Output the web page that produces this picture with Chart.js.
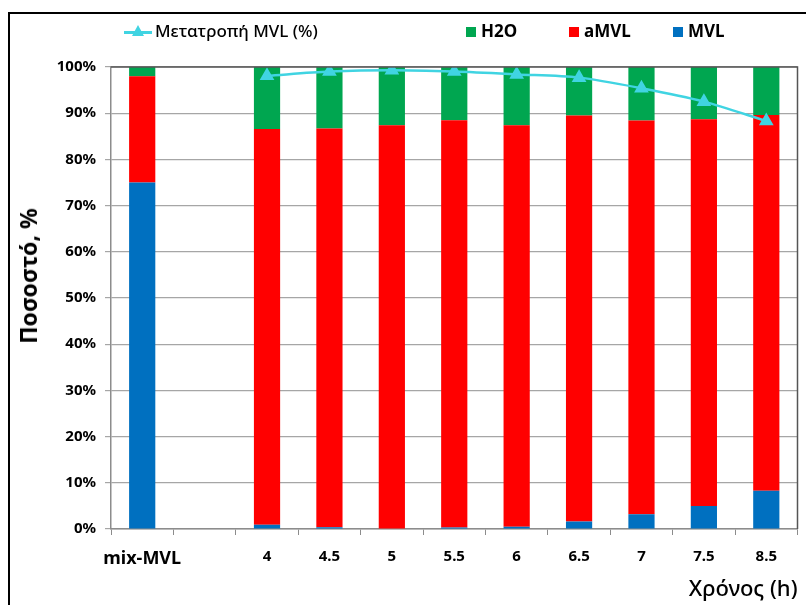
<!DOCTYPE html>
<html>
<head>
<meta charset="utf-8">
<script src="https://cdn.jsdelivr.net/npm/chart.js@4"></script>
<style>
    html, body { margin: 0; padding: 0; background: #ffffff; }
    #wrap { position: relative; width: 806px; height: 605px; overflow: hidden; }
    #frame { position: absolute; left: 8px; top: 12px; width: 820px; height: 620px;
             border-left: 2px solid #000; border-top: 2px solid #000; }
    #legend { position: absolute; top: 19px; left: 0; width: 806px; height: 24px;
              font-family: "Noto Sans", sans-serif; font-size: 17px; color: #000; }
    .item { position: absolute; top: 0; line-height: 24px; white-space: nowrap; }
    .box { display: inline-block; width: 10px; height: 10px; margin-right: 5px; vertical-align: 0px; }
    .lineKey { display: inline-block; position: relative; width: 28px; height: 10px; margin-right: 3px; }
    .lineKey i { position: absolute; left: 0; top: 4px; width: 28px; height: 3px; background: #40d4e2; }
    .lineKey b { position: absolute; left: 8px; top: -2px; width: 0; height: 0;
                 border-left: 6px solid transparent; border-right: 6px solid transparent;
                 border-bottom: 11px solid #40d4e2; }
    #tituloY { position: absolute; left: 28px; top: 276px; white-space: nowrap;
               font-family: "Noto Sans", sans-serif; font-size: 23px; font-weight: bold; color: #000;
               transform: translate(-50%, -50%) rotate(-90deg); }
    canvas { position: absolute; left: 0; top: 0; }
</style>
</head>
<body>
<div id="wrap">
    <div id="frame"></div>
    <canvas id="grafico" width="806" height="605"></canvas>
    <div id="tituloY">Ποσοστό, %</div>
    <div id="legend">
        <span class="item" style="left:124px;font-weight:500;"><span class="lineKey"><i></i><b></b></span>Μετατροπή MVL (%)</span>
        <span class="item" style="left:466px;font-weight:bold;"><span class="box" style="background:#00a650"></span>H2O</span>
        <span class="item" style="left:569px;font-weight:bold;"><span class="box" style="background:#ff0000"></span>aMVL</span>
        <span class="item" style="left:673px;font-weight:bold;"><span class="box" style="background:#0070c0"></span>MVL</span>
    </div>
</div>
<script>
const categorias = ["mix-MVL", "", "4", "4.5", "5", "5.5", "6", "6.5", "7", "7.5", "8.5"];
const mvl  = [75, null, 0.9, 0.4, 0, 0.3, 0.5, 1.6, 3.2, 5.0, 8.3];
const amvl = [23, null, 85.7, 86.3, 87.4, 88.2, 86.9, 87.9, 85.2, 83.7, 81.3];
const h2o  = [2, null, 13.4, 13.3, 12.6, 11.5, 12.6, 10.5, 11.6, 11.3, 10.4];
const conversao = [null, null, 98.1, 99.0, 99.3, 99.0, 98.4, 97.7, 95.4, 92.5, 88.3];
const ticksY = [0, 10, 20, 30, 40, 50, 60, 70, 80, 90, 100];

const fonte = "'Noto Sans', sans-serif";

// moldura superior e direita da área do gráfico
const bordaArea = {
    id: "bordaArea",
    afterDraw(chart) {
        const { ctx, chartArea: a } = chart;
        ctx.save();
        ctx.strokeStyle = "#555555";
        ctx.lineWidth = 1.5;
        ctx.beginPath();
        ctx.moveTo(a.left, a.top);
        ctx.lineTo(a.right, a.top);
        ctx.lineTo(a.right, a.bottom);
        ctx.stroke();
        ctx.restore();
    }
};

const ctx = document.getElementById("grafico").getContext("2d");

new Chart(ctx, {
    data: {
        labels: categorias,
        datasets: [
            {
                type: "line",
                label: "Μετατροπή MVL (%)",
                data: conversao,
                stack: "linha",
                borderColor: "#40d4e2",
                backgroundColor: "#40d4e2",
                borderWidth: 2.5,
                tension: 0.3,
                pointStyle: "triangle",
                pointRadius: 6,
                pointHoverRadius: 6,
                order: 0
            },
            {
                type: "bar",
                label: "MVL",
                data: mvl,
                stack: "barras",
                backgroundColor: "#0070c0",
                barPercentage: 0.42,
                categoryPercentage: 1,
                order: 1
            },
            {
                type: "bar",
                label: "aMVL",
                data: amvl,
                stack: "barras",
                backgroundColor: "#ff0000",
                barPercentage: 0.42,
                categoryPercentage: 1,
                order: 1
            },
            {
                type: "bar",
                label: "H2O",
                data: h2o,
                stack: "barras",
                backgroundColor: "#00a650",
                barPercentage: 0.42,
                categoryPercentage: 1,
                order: 1
            }
        ]
    },

    options: {
        responsive: false,
        animation: false,
        layout: {
            padding: { top: 67, right: 8, left: 0, bottom: 0 }
        },

        plugins: {
            legend: { display: false },
            tooltip: { enabled: false }
        },

        scales: {
            x: {
                stacked: true,
                afterFit(scale) { scale.height = 76; },
                grid: {
                    offset: true,
                    drawOnChartArea: false,
                    tickLength: 6,
                    color: "#8c8c8c"
                },
                border: { color: "#8c8c8c", width: 1.5 },
                ticks: {
                    color: "#000000",
                    padding: 13,
                    maxRotation: 0,
                    autoSkip: false,
                    font: (c) => ({
                        family: fonte,
                        weight: "bold",
                        size: c.index === 0 ? 18 : 15
                    })
                },
                title: {
                    display: true,
                    text: "Χρόνος (h)",
                    align: "end",
                    color: "#000000",
                    padding: { top: 0, bottom: 2 },
                    font: { family: fonte, size: 22, weight: 500 }
                }
            },

            y: {
                stacked: true,
                min: 0,
                max: 100,
                afterFit(scale) { scale.width = 111; },
                afterBuildTicks(scale) {
                    scale.ticks = ticksY.map(v => ({ value: v }));
                },
                grid: {
                    color: "#a6a6a6",
                    lineWidth: 1.2,
                    tickLength: 6
                },
                border: { color: "#8c8c8c", width: 1.5 },
                ticks: {
                    color: "#000000",
                    padding: 9,
                    callback: (v) => v + "%",
                    font: { family: fonte, weight: "bold", size: 15 }
                }
            }
        }
    },

    plugins: [bordaArea]
});
</script>
</body>
</html>
